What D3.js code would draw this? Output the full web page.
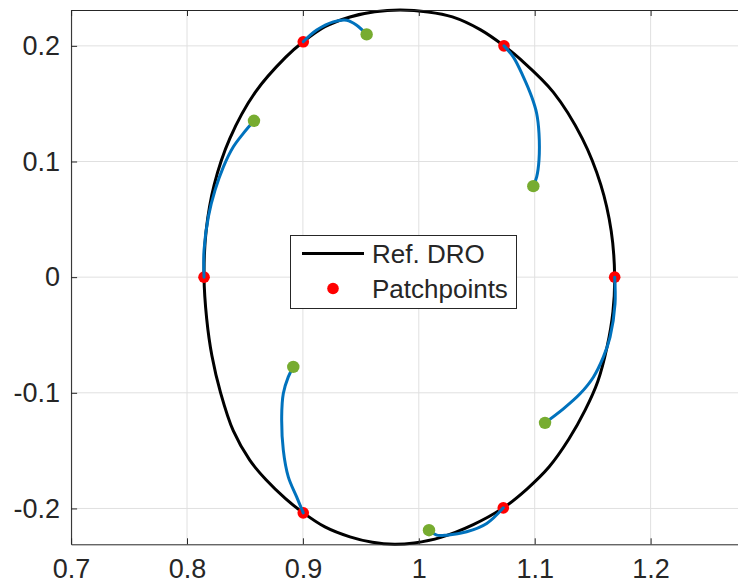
<!DOCTYPE html>
<html>
<head>
<meta charset="utf-8">
<script src="https://cdn.jsdelivr.net/npm/d3@7"></script>
<style>
  html, body { margin: 0; padding: 0; background: #fff; }
  svg { display: block; }
  text { font-family: "Liberation Sans", Arial, Helvetica, sans-serif; fill: #262626; }
</style>
</head>
<body>
<svg id="chart" width="738" height="584"></svg>
<script>
// Reference distant retrograde orbit (closed curve, clockwise on screen from the left-most point)
const droX = [0.8147, 0.8165, 0.8235, 0.8370, 0.8590, 0.8850, 0.9003, 0.9190, 0.9406, 0.9620,
              0.9840, 1.0080, 1.0290, 1.0530, 1.0735, 1.0880, 1.1160, 1.1410, 1.1570, 1.1660,
              1.1690, 1.1675, 1.1625, 1.1545, 1.1435, 1.1295, 1.1125, 1.0935, 1.0729, 1.0470,
              1.0190, 0.9960, 0.9790, 0.9600, 0.9406, 0.9190, 0.9003, 0.8850, 0.8680, 0.8540,
              0.8400, 0.8290, 0.8215, 0.8170];
const droY = [0.0000, 0.0400, 0.0800, 0.1200, 0.1600, 0.1900, 0.2035, 0.2165, 0.2250, 0.2295,
              0.2310, 0.2293, 0.2250, 0.2140, 0.2000, 0.1880, 0.1600, 0.1200, 0.0800, 0.0400,
              0.0000, -0.0300, -0.0600, -0.0900, -0.1150, -0.1400, -0.1640, -0.1830, -0.1995, -0.2140,
              -0.2250, -0.2298, -0.2310, -0.2293, -0.2246, -0.2160, -0.2038, -0.1915, -0.1750, -0.1580,
              -0.1330, -0.1000, -0.0680, -0.0360];

// Patchpoints on the reference orbit
const patchX = [0.9003, 1.0735, 1.1690, 1.0729, 0.9003, 0.8147];
const patchY = [0.2035, 0.2000, 0.0000, -0.1995, -0.2038, 0.0000];

// Propagated segments leaving each patchpoint
const arcX = [
  [0.9003, 0.9119, 0.9262, 0.9378, 0.9464, 0.9550],
  [1.0735, 1.0815, 1.0902, 1.0974, 1.1017, 1.1037, 1.1037, 1.1017, 1.0988],
  [1.1690, 1.1693, 1.1650, 1.1592, 1.1506, 1.1391, 1.1247, 1.1089],
  [1.0729, 1.0586, 1.0413, 1.0241, 1.0155, 1.0088],
  [0.9003, 0.8946, 0.8874, 0.8831, 0.8817, 0.8831, 0.8874, 0.8917],
  [0.8147, 0.8147, 0.8184, 0.8242, 0.8314, 0.8400, 0.8486, 0.8578]
];
const arcY = [
  [0.2035, 0.2136, 0.2207, 0.2222, 0.2179, 0.2099],
  [0.2000, 0.1905, 0.1732, 0.1559, 0.1415, 0.1243, 0.1012, 0.0867, 0.0787],
  [0.0000, -0.0231, -0.0519, -0.0692, -0.0865, -0.1009, -0.1139, -0.1260],
  [-0.1995, -0.2130, -0.2202, -0.2231, -0.2231, -0.2188],
  [-0.2038, -0.1900, -0.1727, -0.1496, -0.1208, -0.1006, -0.0862, -0.0776],
  [0.0000, 0.0233, 0.0521, 0.0752, 0.0954, 0.1127, 0.1243, 0.1352]
];

// Segment end states
const endX = [0.9550, 1.0988, 1.1089, 1.0088, 0.8917, 0.8578];
const endY = [0.2099, 0.0787, -0.1260, -0.2188, -0.0776, 0.1352];

const xTicks = [0.7, 0.8, 0.9, 1.0, 1.1, 1.2];
const xTickLabels = ["0.7", "0.8", "0.9", "1", "1.1", "1.2"];
const yTicks = [-0.2, -0.1, 0, 0.1, 0.2];
const yTickLabels = ["-0.2", "-0.1", "0", "0.1", "0.2"];
const legendLabels = ["Ref. DRO", "Patchpoints"];

const xLim = [0.7, 1.3];
const yLim = [-0.231, 0.231];

// Layout
const plotLeft = 71.1, plotTop = 10, plotBottom = 544.3;
const pxPerUnit = 1159;
const plotRight = plotLeft + (xLim[1] - xLim[0]) * pxPerUnit;

const svg = d3.select("#chart");
const x = d3.scaleLinear().domain(xLim).range([plotLeft, plotRight]);
const y = d3.scaleLinear().domain(yLim).range([plotBottom, plotTop]);

const colors = { dro: "#000000", patch: "#ff0000", arc: "#0072bd", end: "#77ac30", axis: "#262626", grid: "#e0e0e0" };

// Grid
const grid = svg.append("g");
grid.selectAll("line.gx").data(xTicks).join("line")
  .attr("x1", d => x(d)).attr("x2", d => x(d))
  .attr("y1", plotTop).attr("y2", plotBottom)
  .attr("stroke", colors.grid).attr("stroke-width", 1);
grid.selectAll("line.gy").data(yTicks).join("line")
  .attr("x1", plotLeft).attr("x2", plotRight)
  .attr("y1", d => y(d)).attr("y2", d => y(d))
  .attr("stroke", colors.grid).attr("stroke-width", 1);

// Reference orbit
const droPts = droX.map((v, i) => [v, droY[i]]);
const closedLine = d3.line().x(d => x(d[0])).y(d => y(d[1])).curve(d3.curveCatmullRomClosed.alpha(0.5));
svg.append("path")
  .attr("d", closedLine(droPts))
  .attr("fill", "none").attr("stroke", colors.dro).attr("stroke-width", 3);

// Patchpoints
svg.append("g").selectAll("circle").data(patchX.map((v, i) => [v, patchY[i]])).join("circle")
  .attr("cx", d => x(d[0])).attr("cy", d => y(d[1])).attr("r", 5.8)
  .attr("fill", colors.patch);

// Propagated arcs
const openLine = d3.line().x(d => x(d[0])).y(d => y(d[1])).curve(d3.curveCatmullRom.alpha(0.5));
svg.append("g").selectAll("path").data(arcX.map((xs, k) => xs.map((v, i) => [v, arcY[k][i]]))).join("path")
  .attr("d", openLine)
  .attr("fill", "none").attr("stroke", colors.arc).attr("stroke-width", 3)
  .attr("stroke-linecap", "round");

// End states
svg.append("g").selectAll("circle").data(endX.map((v, i) => [v, endY[i]])).join("circle")
  .attr("cx", d => x(d[0])).attr("cy", d => y(d[1])).attr("r", 6.2)
  .attr("fill", colors.end);

// Axes (ticks pointing inward, box on)
function styleAxis(g) {
  g.select(".domain").attr("stroke", colors.axis).attr("stroke-width", 1);
  g.selectAll(".tick line").attr("stroke", colors.axis).attr("stroke-width", 1);
  g.selectAll(".tick text").attr("font-size", 27).attr("fill", colors.axis)
    .attr("font-family", "'Liberation Sans', Arial, sans-serif");
}
svg.append("g").attr("transform", `translate(0,${plotBottom})`)
  .call(d3.axisBottom(x).tickValues(xTicks).tickFormat((d, i) => xTickLabels[i]).tickSizeInner(-6).tickSizeOuter(0).tickPadding(15))
  .call(styleAxis);
svg.append("g").attr("transform", `translate(0,${plotTop})`)
  .call(d3.axisTop(x).tickValues(xTicks).tickFormat("").tickSizeInner(-6).tickSizeOuter(0))
  .call(styleAxis);
svg.append("g").attr("transform", `translate(${plotLeft},0)`)
  .call(d3.axisLeft(y).tickValues(yTicks).tickFormat((d, i) => yTickLabels[i]).tickSizeInner(-6).tickSizeOuter(0).tickPadding(11))
  .call(styleAxis);
svg.append("g").attr("transform", `translate(${plotRight},0)`)
  .call(d3.axisRight(y).tickValues(yTicks).tickFormat("").tickSizeInner(-6).tickSizeOuter(0))
  .call(styleAxis);

// Legend
const lg = svg.append("g").attr("transform", "translate(290,235)");
lg.append("rect").attr("x", 0.5).attr("y", 0.5).attr("width", 226).attr("height", 73)
  .attr("fill", "#fff").attr("stroke", colors.axis).attr("stroke-width", 1);
lg.append("line").attr("x1", 12).attr("x2", 74).attr("y1", 18.5).attr("y2", 18.5)
  .attr("stroke", colors.dro).attr("stroke-width", 3);
lg.append("circle").attr("cx", 43).attr("cy", 53.5).attr("r", 5.8).attr("fill", colors.patch);
lg.selectAll("text").data(legendLabels).join("text")
  .attr("x", 82).attr("y", (d, i) => 18.5 + i * 35).attr("dy", "0.35em")
  .attr("font-size", 26).text(d => d);
</script>
</body>
</html>
